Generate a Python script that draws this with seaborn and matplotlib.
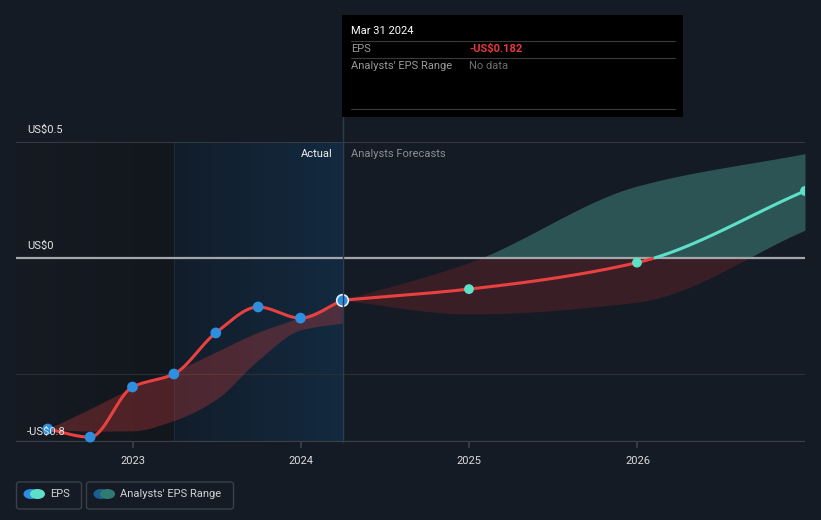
import numpy as np
import pandas as pd
import matplotlib
matplotlib.use("Agg")
import matplotlib.pyplot as plt
import matplotlib.dates as mdates
from matplotlib.patches import Rectangle, FancyBboxPatch, Circle
from matplotlib.colors import LinearSegmentedColormap
import seaborn as sns

# ---------------- data ----------------
eps_dates = ["2022-06-30", "2022-09-30", "2022-12-31", "2023-03-31",
             "2023-06-30", "2023-09-30", "2023-12-31", "2024-03-31"]
eps_values = [-0.737, -0.772, -0.556, -0.50, -0.323, -0.211, -0.259, -0.182]
past_upper = [-0.737, -0.65, -0.56, -0.49, -0.405, -0.32, -0.255, -0.182]
past_lower = [-0.737, -0.746, -0.745, -0.70, -0.61, -0.44, -0.31, -0.28]

fc_dates = ["2024-03-31", "2024-12-31", "2025-12-31", "2026-12-31"]
fc_values = [-0.182, -0.134, -0.02, 0.289]
fc_upper = [-0.182, -0.02, 0.31, 0.45]
fc_lower = [-0.182, -0.241, -0.19, 0.12]

x_ticks = ["2023-01-01", "2024-01-01", "2025-01-01", "2026-01-01"]
x_tick_labels = ["2023", "2024", "2025", "2026"]
y_labels = {0.5: "US$0.5", 0.0: "US$0", -0.8: "-US$0.8"}

# ---------------- style ----------------
BG = "#151b24"
RED = "#e8413f"
BLUE = "#2d8fe0"
TEAL = "#5ee0c8"
W, H = 821, 520

sns.set_theme(style="dark")
plt.rcParams["font.family"] = ["Roboto", "DejaVu Sans"]


def monotone(x, y, n=300):
    x = np.asarray(x, float)
    y = np.asarray(y, float)
    h = np.diff(x)
    d = np.diff(y) / h
    m = np.zeros_like(y)
    m[0], m[-1] = d[0], d[-1]
    for k in range(1, len(x) - 1):
        if d[k - 1] * d[k] <= 0:
            m[k] = 0.0
        else:
            w1 = 2 * h[k] + h[k - 1]
            w2 = h[k] + 2 * h[k - 1]
            m[k] = (w1 + w2) / (w1 / d[k - 1] + w2 / d[k])
    xs = np.linspace(x[0], x[-1], n)
    idx = np.clip(np.searchsorted(x, xs) - 1, 0, len(x) - 2)
    t = (xs - x[idx]) / h[idx]
    h00 = 2 * t**3 - 3 * t**2 + 1
    h10 = t**3 - 2 * t**2 + t
    h01 = -2 * t**3 + 3 * t**2
    h11 = t**3 - t**2
    ys = h00 * y[idx] + h10 * h[idx] * m[idx] + h01 * y[idx + 1] + h11 * h[idx] * m[idx + 1]
    return xs, ys


ex = mdates.date2num(pd.to_datetime(eps_dates))
fx = mdates.date2num(pd.to_datetime(fc_dates))

fig = plt.figure(figsize=(W / 100, H / 100), dpi=100, facecolor=BG)


def px(x, y):
    return x / W, 1 - y / H


ax_left, ax_right, ax_top, ax_bot = 16, 805, 142, 442
ax = fig.add_axes([ax_left / W, 1 - ax_bot / H, (ax_right - ax_left) / W, (ax_bot - ax_top) / H])
ax.set_facecolor(BG)
for s in ax.spines.values():
    s.set_visible(False)

x0 = mdates.date2num(pd.Timestamp("2022-04-22"))
x1 = mdates.date2num(pd.Timestamp("2026-12-31"))
ylo, yhi = -0.793, 0.5

# background regions
hl0 = mdates.date2num(pd.Timestamp("2023-03-31"))
hl1 = ex[-1]
grad = np.linspace(0, 1, 256).reshape(1, -1)
cm_left = LinearSegmentedColormap.from_list("l", ["#161b23", "#12161d"])
cm_hl = LinearSegmentedColormap.from_list("h", ["#121d2a", "#132a40"])
ax.imshow(grad, extent=[x0, hl0, ylo, yhi], aspect="auto", cmap=cm_left, zorder=0)
ax.imshow(grad, extent=[hl0, hl1, ylo, yhi], aspect="auto", cmap=cm_hl, zorder=0)
ax.set_xlim(x0, x1)
ax.set_ylim(ylo, yhi)
ax.axvline(hl0, color="#1f2c3a", lw=0.8, zorder=1)

# gridlines
ax.axhline(0.5, color="#3b4049", lw=1.2, zorder=1)
ax.axhline(-0.5, color="#2a2f37", lw=0.9, zorder=1)
ax.axhline(ylo, color="#3b4049", lw=1.6, zorder=1)
ax.axhline(0.0, color="#a3a6ab", lw=1.6, zorder=3)

# past band
bx, bu = monotone(ex, past_upper)
_, bl = monotone(ex, past_lower)
ax.fill_between(bx, bl, bu, color=RED, alpha=0.28, lw=0, zorder=2)

# forecast band (red below 0, teal above)
fxs, fu = monotone(fx, fc_upper)
_, fl = monotone(fx, fc_lower)
ax.fill_between(fxs, np.minimum(fl, 0), np.minimum(fu, 0), color="#5a2228", alpha=0.55, lw=0, zorder=2)
ax.fill_between(fxs, np.maximum(fl, 0), np.maximum(fu, 0), color="#2f5b5a", alpha=0.9, lw=0, zorder=2)

# EPS lines
lx, ly = monotone(ex, eps_values)
sns.lineplot(x=lx, y=ly, ax=ax, color=RED, lw=2.2, zorder=4, sort=False)
fxl, fyl = monotone(fx, fc_values)
neg = np.where(fyl <= 0, fyl, np.nan)
pos = np.where(fyl >= 0, fyl, np.nan)
sns.lineplot(x=fxl, y=neg, ax=ax, color=RED, lw=2.2, zorder=4, sort=False)
sns.lineplot(x=fxl, y=pos, ax=ax, color=TEAL, lw=2.2, zorder=4, sort=False)

# points
sns.scatterplot(x=ex[:-1], y=eps_values[:-1], ax=ax, color=BLUE, s=60, edgecolor="none",
                zorder=5, clip_on=False)
ax.scatter([ex[-1]], [eps_values[-1]], s=70, color=BLUE, edgecolor="#e8f0f8", linewidth=1.2, zorder=6)
sns.scatterplot(x=fx[1:], y=fc_values[1:], ax=ax, color=TEAL, s=50, edgecolor="none", zorder=5)

# x ticks
ax.set_xticks(mdates.date2num(pd.to_datetime(x_ticks)))
ax.set_xticklabels(x_tick_labels, color="#dcdcdc", fontsize=8)
ax.tick_params(axis="x", length=4, color="#3b4049", pad=6, bottom=True)
ax.set_yticks([])
ax.grid(False)

# y labels
for v, lab in y_labels.items():
    ax.text(x0 + (27 - 16) / 789 * (x1 - x0), v + 12 / 232, lab,
            color="#e6e6e6", fontsize=8, ha="left", va="center", zorder=7, clip_on=False)

# vertical tooltip line
fig.add_artist(plt.Line2D([342.5 / W, 342.5 / W], [1 - 117 / H, 1 - 442 / H],
                          color="#2b3b4b", lw=1))

# Actual / Analysts Forecasts
fig.text(*px(333, 154), "Actual", color="#f0f0f0", fontsize=8, ha="right", va="center")
fig.text(*px(351, 154), "Analysts Forecasts", color="#8a8f96", fontsize=8, ha="left", va="center")

# tooltip box
fig.add_artist(Rectangle(px(342, 117), 341 / W, 102 / H, transform=fig.transFigure,
                         facecolor="#000000", edgecolor="none", zorder=10))
for yy in (41, 58, 109):
    fig.add_artist(plt.Line2D([351 / W, 675 / W], [1 - yy / H] * 2, color="#3a3a3a", lw=0.8, zorder=11))
fig.text(*px(351, 31), "Mar 31 2024", color="#ffffff", fontsize=8, ha="left", va="center", zorder=12)
fig.text(*px(351, 49), "EPS", color="#9a9a9a", fontsize=8, ha="left", va="center", zorder=12)
fig.text(*px(469, 49), "-US$0.182", color="#e8393e", fontsize=8, fontweight="bold",
         ha="left", va="center", zorder=12)
fig.text(*px(351, 66), "Analysts' EPS Range", color="#9a9a9a", fontsize=8, ha="left", va="center", zorder=12)
fig.text(*px(469, 66), "No data", color="#6f6f6f", fontsize=8, ha="left", va="center", zorder=12)


# legend
def legend_box(xa, xb, c1, c2, label, tx):
    fig.add_artist(FancyBboxPatch(px(xa, 509), (xb - xa) / W, 27 / H, transform=fig.transFigure,
                                  boxstyle="round,pad=0,rounding_size=0.004",
                                  facecolor="none", edgecolor="#3a404a", lw=1))
    fig.add_artist(Circle(px(xa + 14.5, 494), 4.3 / H, transform=fig.transFigure, color=c1, zorder=5))
    fig.add_artist(Circle(px(xa + 21, 494), 4.3 / H, transform=fig.transFigure, color=c2, zorder=6))
    fig.text(*px(tx, 494), label, color="#cfd2d6", fontsize=8, ha="left", va="center")


legend_box(16.5, 81.5, BLUE, TEAL, "EPS", 50)
legend_box(86.5, 233.5, "#1e5d8f", "#2f7b74", "Analysts' EPS Range", 120)

fig.savefig("out.png", dpi=100, facecolor=BG)
